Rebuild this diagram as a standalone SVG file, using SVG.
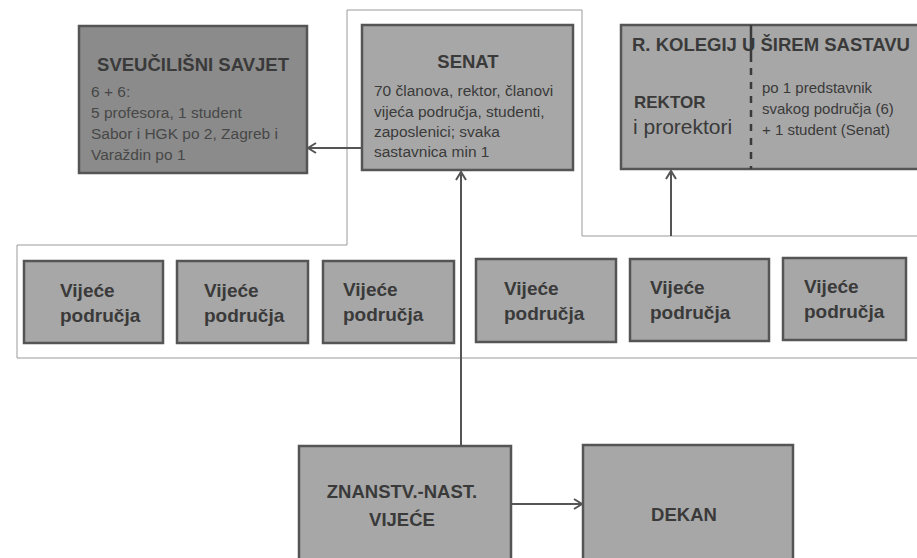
<svg xmlns="http://www.w3.org/2000/svg" width="917" height="558" viewBox="0 0 917 558">
<defs>
<style>
.box{fill:#a7a7a7;stroke:#555;stroke-width:2.5}
.dark{fill:#8b8b8b;stroke:#555;stroke-width:2.5}
.t{font-family:"Liberation Sans",Arial,sans-serif;fill:#3a3a3a}
.h{font-size:18.5px;font-weight:bold}
.b{font-size:15.5px}
.v{font-size:19px;font-weight:bold}
.wire{fill:none;stroke:#9a9a9a;stroke-width:1}
.conn{fill:none;stroke:#555;stroke-width:2}
</style>
<marker id="arr" markerUnits="userSpaceOnUse" markerWidth="12" markerHeight="12" refX="9" refY="6" orient="auto">
<path d="M1,1 L9,6 L1,11" fill="none" stroke="#555" stroke-width="2"/>
</marker>
</defs>
<rect width="917" height="558" fill="#fff"/>
<g id="frame">
<path class="wire" d="M930,236 L582,236 L582,10 L347,10 L347,245 L17,245 L17,358 L930,358"/>
</g>
<g id="savjet">
<rect class="dark" x="79" y="26" width="228" height="147"/>
<text class="t h" x="193" y="71" text-anchor="middle">SVEUČILIŠNI SAVJET</text>
<text class="t b" x="91" y="97" style="fill:#474747">6 + 6:</text>
<text class="t b" x="91" y="118" style="fill:#474747">5 profesora, 1 student</text>
<text class="t b" x="91" y="139" style="fill:#474747">Sabor i HGK po 2, Zagreb i</text>
<text class="t b" x="91" y="160" style="fill:#474747">Varaždin po 1</text>
</g>
<g id="senat">
<rect class="box" x="362" y="25" width="211" height="145"/>
<text class="t h" x="468" y="68" text-anchor="middle">SENAT</text>
<text class="t b" x="374" y="96">70 članova, rektor, članovi</text>
<text class="t b" x="374" y="117">vijeća područja, studenti,</text>
<text class="t b" x="374" y="137">zaposlenici; svaka</text>
<text class="t b" x="374" y="157">sastavnica min 1</text>
</g>
<g id="rektor">
<rect class="box" x="621" y="25" width="310" height="144"/>
<text class="t h" x="632" y="51">R. KOLEGIJ U ŠIREM SASTAVU</text>
<line x1="751" y1="25" x2="751" y2="62" stroke="#3a3a3a" stroke-width="2.5"/>
<line x1="751" y1="68" x2="751" y2="169" stroke="#3a3a3a" stroke-width="2.5" stroke-dasharray="7,7"/>
<text class="t" x="634" y="108" style="font-size:17px;font-weight:bold">REKTOR</text>
<text class="t" x="633" y="134" style="font-size:21px">i prorektori</text>
<text class="t" x="762" y="93" style="font-size:15px">po 1 predstavnik</text>
<text class="t" x="762" y="114" style="font-size:15px">svakog područja (6)</text>
<text class="t" x="762" y="135" style="font-size:15px">+ 1 student (Senat)</text>
</g>
<g id="vijece1">
<rect class="box" x="24" y="261" width="139" height="82"/>
<text class="t v" x="60" y="297">Vijeće</text>
<text class="t v" x="60" y="322">područja</text>
</g>
<g id="vijece2">
<rect class="box" x="177" y="261" width="131" height="82"/>
<text class="t v" x="204" y="297">Vijeće</text>
<text class="t v" x="204" y="322">područja</text>
</g>
<g id="vijece3">
<rect class="box" x="323" y="261" width="131" height="82"/>
<text class="t v" x="343" y="296">Vijeće</text>
<text class="t v" x="343" y="321">područja</text>
</g>
<g id="vijece4">
<rect class="box" x="476" y="259" width="140" height="83"/>
<text class="t v" x="504" y="295">Vijeće</text>
<text class="t v" x="504" y="320">područja</text>
</g>
<g id="vijece5">
<rect class="box" x="630" y="259" width="139" height="82"/>
<text class="t v" x="650" y="294">Vijeće</text>
<text class="t v" x="650" y="319">područja</text>
</g>
<g id="vijece6">
<rect class="box" x="783" y="258" width="123" height="82"/>
<text class="t v" x="804" y="293">Vijeće</text>
<text class="t v" x="804" y="318">područja</text>
</g>
<g id="znanstv">
<rect class="box" x="299" y="446" width="212" height="130"/>
<text class="t h" x="402" y="498" text-anchor="middle">ZNANSTV.-NAST.</text>
<text class="t h" x="402" y="526" text-anchor="middle">VIJEĆE</text>
</g>
<g id="dekan">
<rect class="box" x="583" y="445" width="210" height="130"/>
<text class="t h" x="684" y="521" text-anchor="middle">DEKAN</text>
</g>
<g id="connectors">
<line class="conn" x1="362" y1="148" x2="308" y2="148" marker-end="url(#arr)"/>
<line class="conn" x1="461" y1="446" x2="461" y2="172" marker-end="url(#arr)"/>
<line class="conn" x1="671" y1="236" x2="671" y2="171" marker-end="url(#arr)"/>
<line class="conn" x1="511" y1="504" x2="582" y2="504" marker-end="url(#arr)"/>
</g>
</svg>
